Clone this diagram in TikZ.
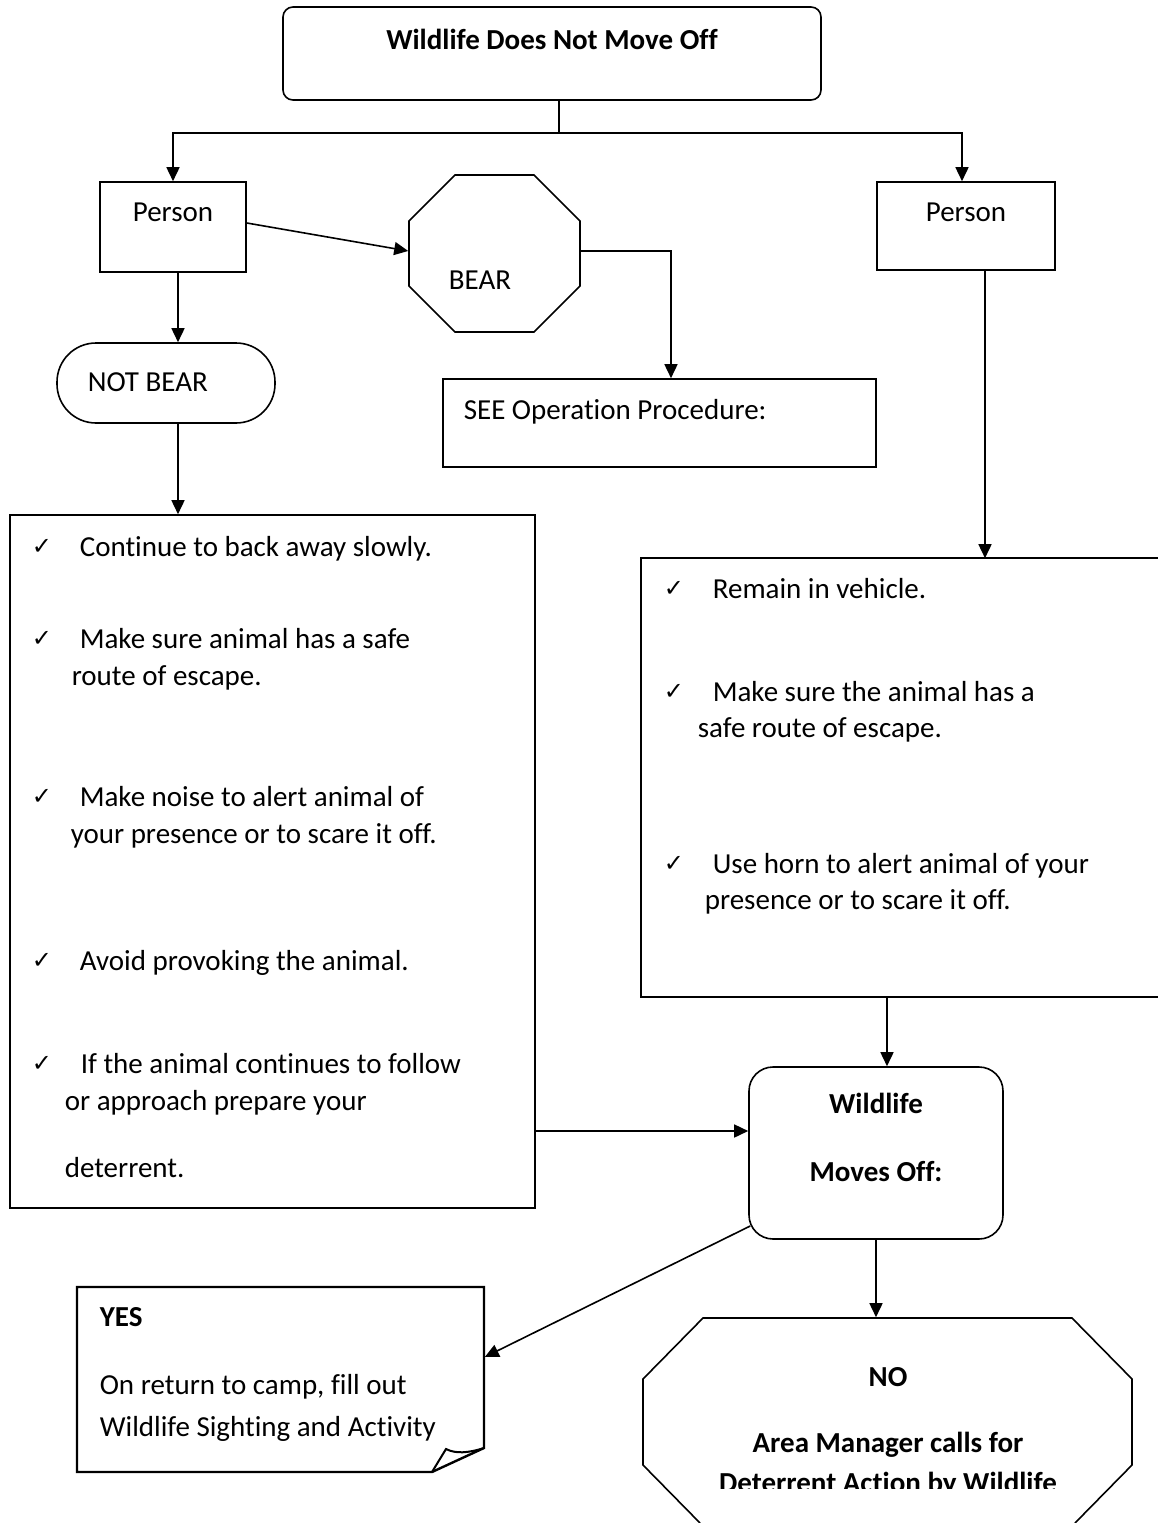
\documentclass[tikz,border=0pt]{standalone}
\usepackage{fontspec}
\setmainfont{Carlito}[Ligatures=CommonOff]
\newfontfamily\chk{DejaVu Sans}
\usetikzlibrary{arrows.meta,calc}
\begin{document}
\begin{tikzpicture}[x=1pt,y=-1pt,
  line width=1.6pt,
  box/.style={draw, line width=1.6pt, inner sep=0pt},
  ghost/.style={inner sep=0pt},
  txt/.style={anchor=base west, inner sep=0pt, font=\fontsize{29}{35}\selectfont},
  ctxt/.style={anchor=base, inner sep=0pt, font=\fontsize{29}{35}\selectfont},
  btxt/.style={anchor=base, inner sep=0pt, font=\fontsize{29}{35}\selectfont\bfseries},
  bltxt/.style={anchor=base west, inner sep=0pt, font=\fontsize{29}{35}\selectfont\bfseries},
  tick/.style={anchor=base, inner sep=0pt, font=\chk\fontsize{24}{25}\selectfont},
  arr/.style={-{Triangle[length=14pt,width=13pt]}, line width=1.6pt},
]
\useasboundingbox (0,0) rectangle (1157,1523);

% ---- shapes ----
\node[box, rounded corners=10pt, minimum width=538pt, minimum height=93pt] (top) at (552,53.5) {};
\node[btxt] (ttl) at (552,49.5) {Wildlife Does Not Move Off};

\node[box, minimum width=146pt, minimum height=90pt] (p1) at (173,227) {};
\node[ctxt] (p1t) at (173,221.5) {Person};
\node[box, minimum width=178pt, minimum height=88pt] (p2) at (966,226) {};
\node[ctxt] (p2t) at (966,221.5) {Person};

\node[ghost, minimum width=171pt, minimum height=157pt] (bear) at (494.5,253.5) {};
\draw (455,175) -- (534,175) -- (580,221) -- (580,286) -- (534,332) -- (455,332) -- (409,286) -- (409,221) -- cycle;
\node[ctxt] (beart) at (480,289.5) {BEAR};

\node[box, minimum width=433pt, minimum height=88pt] (see) at (659.5,423) {};
\node[txt] (seet) at (463,419.5) {SEE Operation Procedure:};

\node[box, rounded corners=39pt, minimum width=218pt, minimum height=80pt] (notbear) at (166,383) {};
\node[txt] (notbeart) at (87,391.5) {NOT BEAR};

\node[box, minimum width=525pt, minimum height=693pt] (L) at (272.5,861.5) {};

\node[ghost, minimum width=515pt, minimum height=437pt] (R) at (899.5,777.5) {};
\draw (R.north east) -- (R.north west) -- (R.south west) -- (R.south east);

\node[box, rounded corners=24pt, minimum width=254pt, minimum height=172pt] (mo) at (876,1153) {};
\node[btxt] (mot1) at (876,1113) {Wildlife};
\node[btxt] (mot2) at (876,1181.5) {Moves Off:};

\node[ghost, minimum width=407pt, minimum height=185pt] (yes) at (280.5,1379.5) {};
\draw[line width=2.4pt, line join=miter] (77,1287) -- (484,1287) -- (484,1448) -- (432,1472) -- (77,1472) -- cycle;
\draw[line width=2pt] (432,1472) -- (446,1449) .. controls (456,1454) and (468,1453) .. (484,1448);
\node[bltxt] (yest) at (99,1326.5) {YES};
\node[txt] (yes1) at (99,1394.5) {On return to camp, fill out};
\node[txt] (yes2) at (99,1436.5) {Wildlife Sighting and Activity};

\node[ghost, minimum width=489pt, minimum height=208pt] (no) at (887.5,1422) {};
\draw (700,1523) -- (643,1465) -- (643,1379) -- (703,1318) -- (1072,1318) -- (1132,1379) -- (1132,1465) -- (1075,1523);
\node[btxt] (not) at (888,1386.5) {NO};
\node[btxt] (no1) at (888,1452.5) {Area Manager calls for};
\begin{scope}
\clip (600,1300) rectangle (1157,1488);
\node[btxt] (no2) at (888,1492) {Deterrent Action by Wildlife};
\end{scope}

% ---- left list ----
\node[tick] (lc1) at (42,554) {✓};
\node[txt] (l1) at (79,556.5) {Continue to back away slowly.};
\node[tick] (lc2) at (42,646) {✓};
\node[txt] (l2a) at (79,648.5) {Make sure animal has a safe};
\node[txt] (l2b) at (71,685.5) {route of escape.};
\node[tick] (lc3) at (42,804) {✓};
\node[txt] (l3a) at (79,806.5) {Make noise to alert animal of};
\node[txt] (l3b) at (70,843.5) {your presence or to scare it off.};
\node[tick] (lc4) at (42,968) {✓};
\node[txt] (l4) at (79,970.5) {Avoid provoking the animal.};
\node[tick] (lc5) at (42,1071) {✓};
\node[txt] (l5a) at (80,1073.5) {If the animal continues to follow};
\node[txt] (l5b) at (64,1110.5) {or approach prepare your};
\node[txt] (l5c) at (64,1177.5) {deterrent.};

% ---- right list ----
\node[tick] (rc1) at (674,596) {✓};
\node[txt] (r1) at (712,598.5) {Remain in vehicle.};
\node[tick] (rc2) at (674,699) {✓};
\node[txt] (r2a) at (712,701.5) {Make sure the animal has a};
\node[txt] (r2b) at (697,737.5) {safe route of escape.};
\node[tick] (rc3) at (674,871) {✓};
\node[txt] (r3a) at (712,873.5) {Use horn to alert animal of your};
\node[txt] (r3b) at (704,909.5) {presence or to scare it off.};

% ---- connectors ----
\coordinate (j) at (559,133);
\draw (top.south -| j) -- (j);
\draw[arr] (j) -| (p1.north);
\draw[arr] (j) -| ([xshift=-4pt]p2.north);
\draw[arr] ([yshift=4pt]p1.east) -- ([yshift=2.5pt]bear.west);
\draw[arr] ([yshift=2.5pt]bear.east) -| ([xshift=11.5pt]see.north);
\draw[arr] ([xshift=5pt]p1.south) -- ([xshift=5pt]p1.south |- notbear.north);
\draw[arr] ([xshift=5pt]p1.south |- notbear.south) -- ([xshift=5pt]p1.south |- L.north);
\draw[arr] ([xshift=19pt]p2.south) -- ([xshift=19pt]p2.south |- R.north);
\draw[arr] ([xshift=11pt]mo.north |- R.south) -- ([xshift=11pt]mo.north);
\draw[arr] ([yshift=22pt]mo.west -| L.east) -- ([yshift=22pt]mo.west);
\draw[arr] ([xshift=2pt,yshift=-73pt]mo.west) -- ([yshift=22.5pt]yes.east);
\draw[arr] (mo.south) -- (mo.south |- no.north);
\end{tikzpicture}
\end{document}
